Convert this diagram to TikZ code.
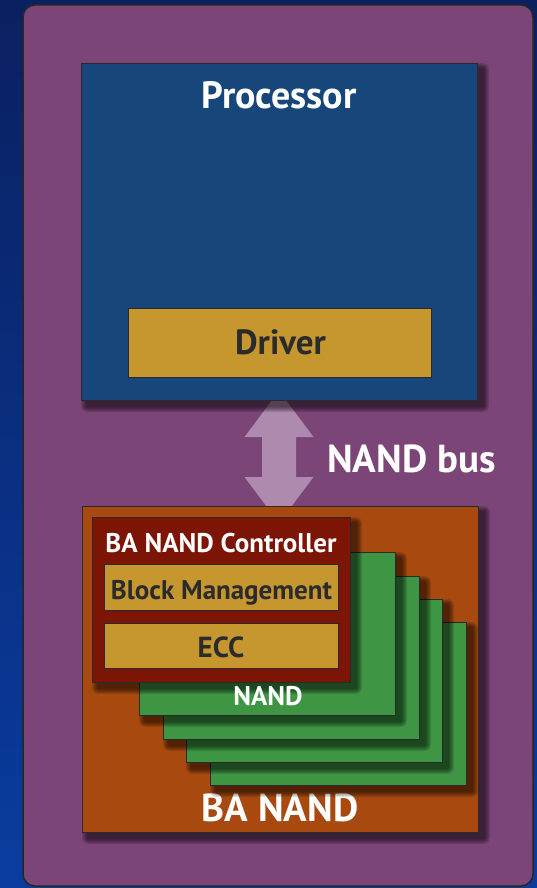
\documentclass[tikz,border=0pt]{standalone}
\usepackage{fontspec}
\setmainfont{PT Sans}
\usetikzlibrary{calc}
\definecolor{bgtop}{HTML}{0A2060}
\definecolor{bgbot}{HTML}{0A3CA0}
\definecolor{purp}{HTML}{7B4577}
\definecolor{procc}{HTML}{17467A}
\definecolor{goldc}{HTML}{C6962F}
\definecolor{rustc}{HTML}{A84A10}
\definecolor{grnc}{HTML}{3E9645}
\definecolor{ctrlc}{HTML}{7C1505}
\definecolor{arrc}{HTML}{AE8AAE}
\definecolor{edgec}{HTML}{2A2A2A}
\definecolor{darktext}{HTML}{2B2B2B}
\newcommand\myshadow[4]{%
  \foreach \r in {1,...,6}{\fill[black, fill opacity=0.11, rounded corners=\r pt]
    (#1+6-\r, #2+6-\r) rectangle (#1+#3+6+\r, #2+#4+6+\r);}}
\begin{document}
\begin{tikzpicture}[x=1pt,y=-1pt,
  box/.style={draw=edgec, line width=1.3pt, inner sep=0pt, anchor=north west},
  wtxt/.style={text=white, font=\bfseries\fontsize{#1}{#1}\selectfont, inner sep=0pt, anchor=base},
  dtxt/.style={text=darktext, font=\bfseries\fontsize{#1}{#1}\selectfont, inner sep=0pt, anchor=base}]
\fill[top color=bgtop, bottom color=bgbot] (0,0) rectangle (537,888);
\draw[draw=black!85, line width=1.5pt, fill=purp, rounded corners=12pt] (23,5) rectangle (533,886);
\useasboundingbox (0,0) rectangle (537,888);
% NAND bus arrow (between processor and BA NAND)
\coordinate (atop) at (279,391);
\fill[arrc] (atop) -- ++(34.5,46) -- ++(-17.5,0) -- ++(0,40) -- ++(17.5,0)
  -- ++(-34.5,46) -- ++(-34.5,-46) -- ++(17.5,0) -- ++(0,-40) -- ++(-17.5,0) -- cycle;
\node[wtxt=39, anchor=base west] (bus) at (327,472) {NAND bus};
% Processor
\myshadow{81}{63}{396}{337}
\node[box, fill=procc, minimum width=396pt, minimum height=337pt] (proc) at (81,63) {};
\node[wtxt=38] (proct) at (279,109) {Processor};
\node[box, fill=goldc, minimum width=303pt, minimum height=69pt] (drv) at (128,308) {};
\node[dtxt=35] (drvt) at (280.5,354) {Driver};
% BA NAND
\myshadow{82}{506}{396}{326}
\node[box, fill=rustc, minimum width=396pt, minimum height=326pt] (ban) at (82,506) {};
\node[wtxt=39] (bant) at (280,821) {BA NAND};
% NAND cards
\myshadow{210}{622}{256}{163}
\node[box, fill=grnc, minimum width=256pt, minimum height=163pt] (n4) at (210,622) {};
\myshadow{186}{599}{256}{163}
\node[box, fill=grnc, minimum width=256pt, minimum height=163pt] (n3) at (186,599) {};
\myshadow{163}{576}{256}{163}
\node[box, fill=grnc, minimum width=256pt, minimum height=163pt] (n2) at (163,576) {};
\myshadow{139}{552}{256}{163}
\node[box, fill=grnc, minimum width=256pt, minimum height=163pt] (n1) at (139,552) {};
% Controller
\myshadow{92}{517}{258}{165}
\node[box, fill=ctrlc, minimum width=258pt, minimum height=165pt] (ctl) at (92,517) {};
\node[wtxt=27] (ctlt) at (221,552) {BA NAND Controller};
\node[box, fill=goldc, minimum width=234pt, minimum height=46pt] (bm) at (104,564) {};
\node[dtxt=27] (bmt) at (221.5,599) {Block Management};
\node[box, fill=goldc, minimum width=234pt, minimum height=45pt] (ecc) at (104,623) {};
\node[dtxt=29] (ecct) at (221,657) {ECC};
\node[wtxt=27] (nt) at (268,705) {NAND};
\end{tikzpicture}
\end{document}
